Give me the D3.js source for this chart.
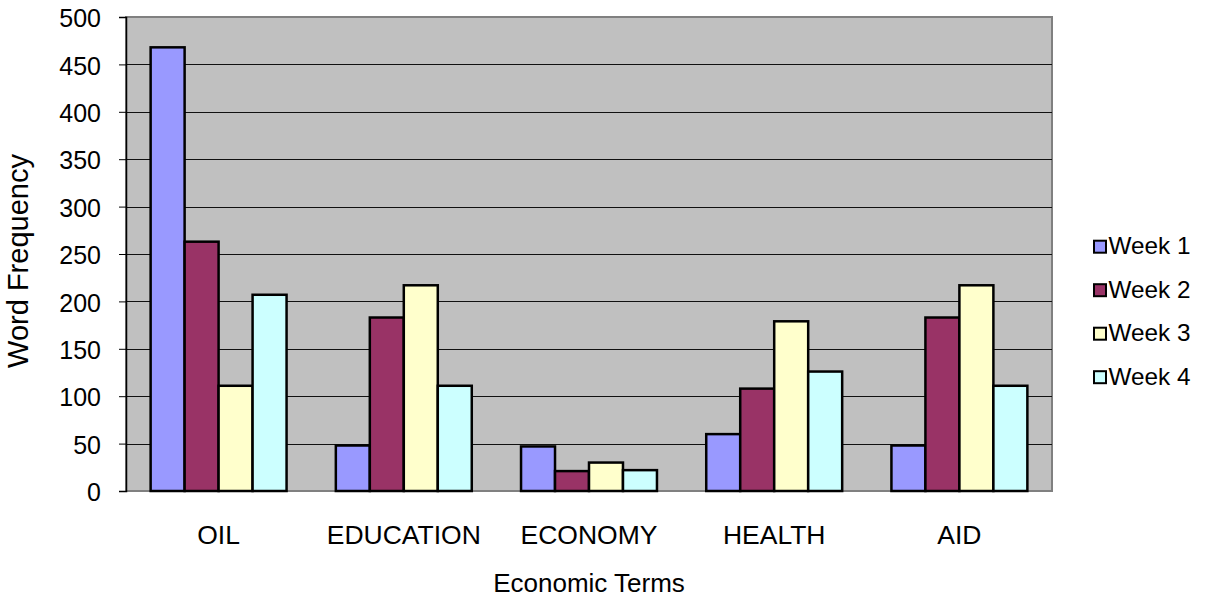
<!DOCTYPE html>
<html>
<head>
<meta charset="utf-8">
<script src="https://cdn.jsdelivr.net/npm/d3@7"></script>
<style>
  html, body { margin: 0; padding: 0; background: #fff; }
  svg { display: block; font-family: "Liberation Sans", Arial, sans-serif; }
</style>
</head>
<body>
<svg id="chart" width="1205" height="601"></svg>
<script>
// Word frequency of economic terms over four weeks
const categories = ["OIL", "EDUCATION", "ECONOMY", "HEALTH", "AID"];
const seriesNames = ["Week 1", "Week 2", "Week 3", "Week 4"];
const week1 = [468, 48, 47, 60, 48];
const week2 = [263, 183, 21, 108, 183];
const week3 = [111, 217, 30, 179, 217];
const week4 = [207, 111, 22, 126, 111];
const yTicks = [0, 50, 100, 150, 200, 250, 300, 350, 400, 450, 500];
const colors = ["#9999FF", "#993366", "#FFFFCC", "#CCFFFF"];

const seriesValues = [week1, week2, week3, week4];
const rows = categories.map((c, i) => ({
  category: c,
  values: seriesNames.map((s, j) => ({ series: s, value: seriesValues[j][i] }))
}));

const FONT = "Liberation Sans, Arial, sans-serif";
const svg = d3.select("#chart");
const plot = { left: 126, top: 17, right: 1052, bottom: 491 };

const x0 = d3.scaleBand()
  .domain(categories)
  .range([plot.left, plot.right])
  .paddingInner(0.266)
  .paddingOuter(0.133);

const x1 = d3.scaleBand()
  .domain(seriesNames)
  .range([0, x0.bandwidth()]);

const y = d3.scaleLinear()
  .domain([0, 500])
  .range([plot.bottom, plot.top]);

const color = d3.scaleOrdinal().domain(seriesNames).range(colors);

// plot background
svg.append("rect")
  .attr("x", plot.left).attr("y", plot.top)
  .attr("width", plot.right - plot.left)
  .attr("height", plot.bottom - plot.top)
  .attr("fill", "#C0C0C0")
  .attr("stroke", "#808080")
  .attr("stroke-width", 2);

// horizontal gridlines
svg.append("g")
  .selectAll("line")
  .data(yTicks.filter(d => d > 0 && d < 500))
  .join("line")
  .attr("x1", plot.left).attr("x2", plot.right)
  .attr("y1", d => Math.round(y(d)) + 0.5)
  .attr("y2", d => Math.round(y(d)) + 0.5)
  .attr("stroke", "#111")
  .attr("stroke-width", 1);

// y axis
const yAxis = d3.axisLeft(y).tickValues(yTicks).tickSize(7).tickPadding(18);
const gy = svg.append("g")
  .attr("transform", `translate(${plot.left},0)`)
  .call(yAxis);
gy.select(".domain").attr("stroke", "#000").attr("stroke-width", 1.5);
gy.selectAll(".tick line").attr("stroke", "#000");
gy.selectAll(".tick text")
  .attr("font-size", 25)
  .attr("dy", "0.39em")
  .attr("fill", "#000")
  .attr("font-family", FONT);

// bars
const groups = svg.append("g")
  .selectAll("g")
  .data(rows)
  .join("g")
  .attr("transform", d => `translate(${x0(d.category)},0)`);

groups.selectAll("rect")
  .data(d => d.values)
  .join("rect")
  .attr("x", d => x1(d.series))
  .attr("y", d => y(d.value))
  .attr("width", x1.bandwidth())
  .attr("height", d => y(0) - y(d.value))
  .attr("fill", d => color(d.series))
  .attr("stroke", "#000")
  .attr("stroke-width", 2.5);

// category labels
const xAxis = d3.axisBottom(x0).tickSize(0).tickPadding(34);
const gx = svg.append("g")
  .attr("transform", `translate(0,${plot.bottom})`)
  .call(xAxis);
gx.select(".domain").remove();
gx.selectAll(".tick text")
  .attr("font-size", 26.5)
  .attr("fill", "#000")
  .attr("font-family", FONT);

// axis titles
svg.append("text")
  .attr("x", (plot.left + plot.right) / 2)
  .attr("y", 592)
  .attr("text-anchor", "middle")
  .attr("font-size", 26)
  .text("Economic Terms");

svg.append("text")
  .attr("transform", "translate(28,261) rotate(-90)")
  .attr("text-anchor", "middle")
  .attr("font-size", 29)
  .text("Word Frequency");

// legend
const legend = svg.append("g")
  .selectAll("g")
  .data(seriesNames)
  .join("g")
  .attr("transform", (d, i) => `translate(1094,${246.7 + i * 43.5})`);

legend.append("rect")
  .attr("x", 0).attr("y", -6)
  .attr("width", 12).attr("height", 12)
  .attr("fill", d => color(d))
  .attr("stroke", "#000")
  .attr("stroke-width", 2);

legend.append("text")
  .attr("x", 14.5)
  .attr("y", 7.5)
  .attr("font-size", 24.3)
  .text(d => d);
</script>
</body>
</html>
